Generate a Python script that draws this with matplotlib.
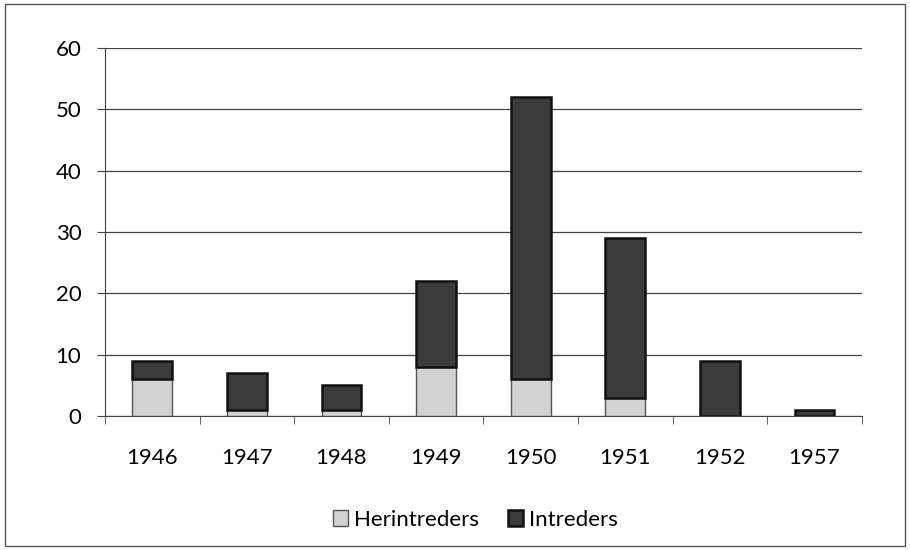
"""
Herintreders / Intreders per jaar, stacked bars
"""
import matplotlib.pyplot as plt
from matplotlib.patches import Rectangle

years = ["1946", "1947", "1948", "1949", "1950", "1951", "1952", "1957"]
herintreders = [6, 1, 1, 8, 6, 3, 0, 0]
intreders = [3, 6, 4, 14, 46, 26, 9, 1]

plt.rcParams['font.family'] = ['Lato', 'DejaVu Sans']

fig = plt.figure(figsize=(9.1, 5.5), dpi=100)
ax = fig.add_axes([0.1154, 0.2436, 0.8316, 0.6691])

x = range(len(years))
ax.bar(x, herintreders, width=0.42, color='#d2d2d2', edgecolor='#555555', linewidth=1.0,
       label='Herintreders', zorder=3)
ax.bar(x, intreders, width=0.42, bottom=herintreders, color='#3b3b3b', edgecolor='#111111',
       linewidth=1.8, label='Intreders', zorder=3)

ax.set_xlim(-0.5, len(years) - 0.5)
ax.set_ylim(0, 60)
ax.set_yticks(range(0, 61, 10))
ax.yaxis.grid(True, color='#444444', linewidth=0.9, zorder=0)

# category labels centred, tick marks between categories
ax.set_xticks(list(x))
ax.set_xticklabels(years)
ax.tick_params(axis='x', length=0, pad=23, labelsize=16)
ax.set_xticks([i - 0.5 for i in range(len(years) + 1)], minor=True)
ax.tick_params(axis='x', which='minor', length=6, color='#444444', direction='out')
ax.tick_params(axis='y', length=6, color='#444444', labelsize=16, pad=11)

for s in ['top', 'right']:
    ax.spines[s].set_visible(False)
ax.spines['left'].set_color('#444444')
ax.spines['bottom'].set_color('#444444')

fig.legend(loc='center', bbox_to_anchor=(0.522, 0.055), ncol=2, frameon=False,
           fontsize=16, handlelength=0.7, handleheight=0.7, handletextpad=0.25,
           columnspacing=1.3)

fig.patches.append(Rectangle((0.006, 0.008), 0.988, 0.984, transform=fig.transFigure,
                             fill=False, edgecolor='#555555', linewidth=1.0))

fig.savefig('out.png', dpi=100)
